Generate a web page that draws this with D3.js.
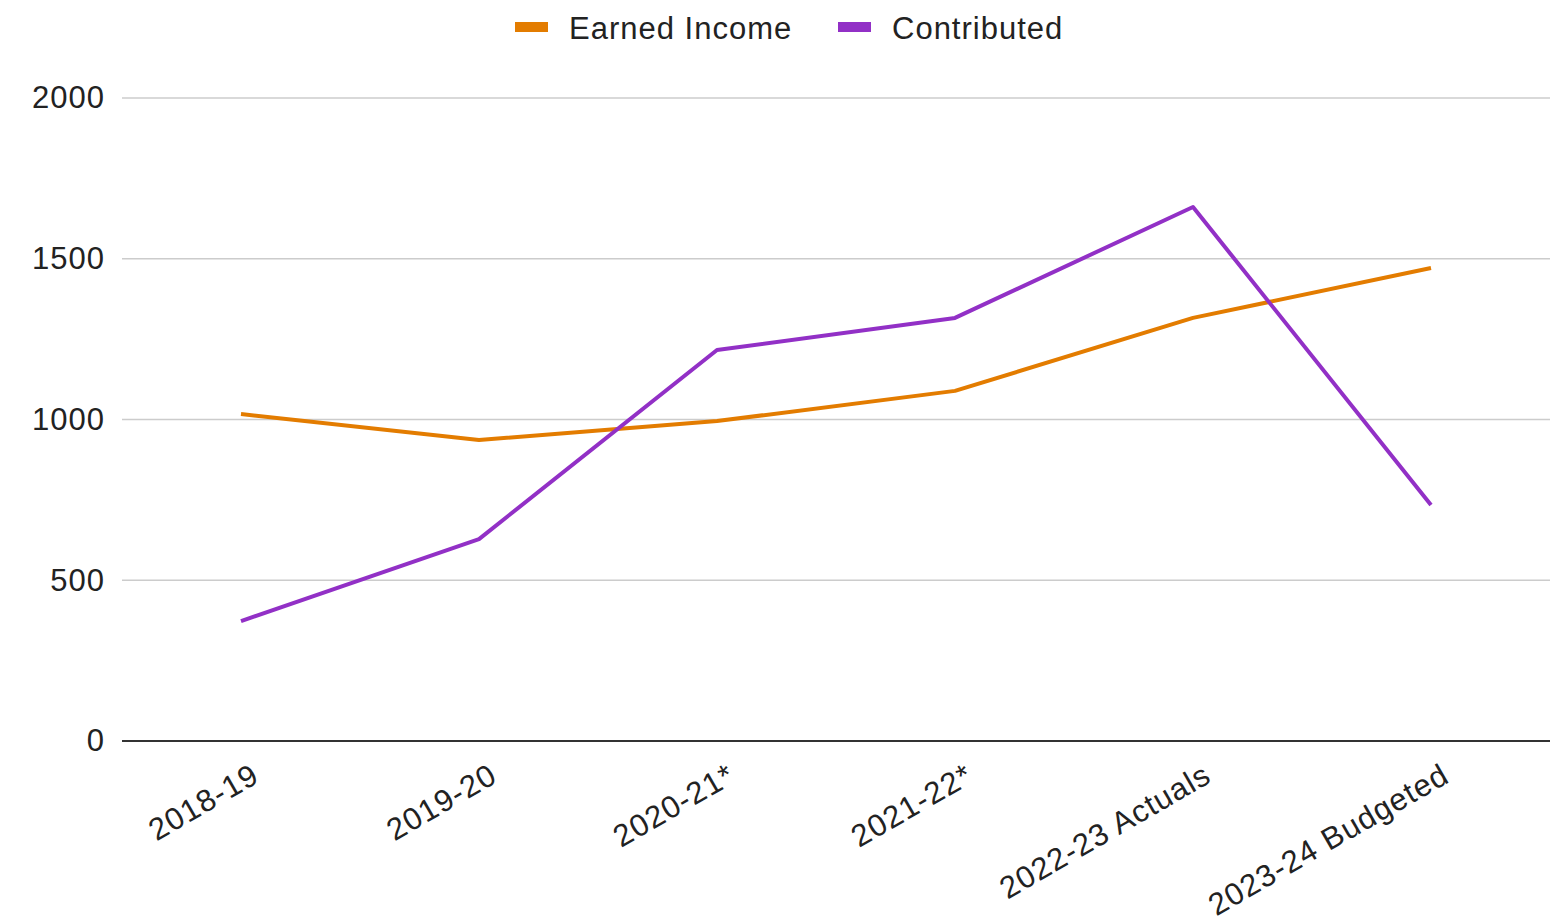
<!DOCTYPE html>
<html><head><meta charset="utf-8">
<script src="https://cdn.jsdelivr.net/npm/d3@7"></script>
<style>
html,body{margin:0;padding:0;background:#fff;}
text{font-family:"Liberation Sans",Arial,sans-serif;fill:#222;}
</style></head>
<body>
<svg id="chart" width="1557" height="923"></svg>
<script>
const categories = ["2018-19","2019-20","2020-21*","2021-22*","2022-23 Actuals","2023-24 Budgeted"];
const earnedIncome = [1017, 936, 995, 1089, 1316, 1471];
const contributed = [373, 628, 1216, 1316, 1661, 734];
const seriesNames = ["Earned Income","Contributed"];
const seriesColors = ["#e37c00","#9230c6"];
const yTicks = [0, 500, 1000, 1500, 2000];

(function(){
const svg = d3.select("#chart");
const mLeft = 122, mRight = 1550, mTop = 98, mBottom = 741;

const x = d3.scaleBand().domain(categories).range([mLeft, mRight]);
const y = d3.scaleLinear().domain([0, 2000]).range([mBottom, mTop]);

// gridlines
svg.append("g").selectAll("line").data(yTicks.filter(d => d !== 0)).join("line")
  .attr("x1", mLeft).attr("x2", mRight)
  .attr("y1", d => y(d)).attr("y2", d => y(d))
  .attr("stroke", "#cccccc").attr("stroke-width", 1.5);

// y axis labels
const yAxis = d3.axisLeft(y).tickValues(yTicks).tickFormat(d3.format("d")).tickSize(0).tickPadding(17);
const yg = svg.append("g").attr("transform", `translate(${mLeft},0)`).call(yAxis);
yg.select(".domain").remove();
yg.selectAll("text").style("font-size", "31px").style("letter-spacing", "1px")
  .style("font-family", '"Liberation Sans", Arial, sans-serif').attr("fill", "#222");

// baseline
svg.append("line").attr("x1", mLeft).attr("x2", mRight)
  .attr("y1", y(0)).attr("y2", y(0)).attr("stroke", "#333").attr("stroke-width", 2);

// x labels
const xAxis = d3.axisBottom(x).tickSize(0);
const xg = svg.append("g").attr("transform", `translate(0,${mBottom})`).call(xAxis);
xg.select(".domain").remove();
xg.selectAll("text")
  .style("font-size", "31px").style("letter-spacing", "1px")
  .style("font-family", '"Liberation Sans", Arial, sans-serif').attr("fill", "#222")
  .attr("text-anchor", "end")
  .attr("y", 0).attr("dy", 0)
  .attr("transform", "translate(20,40) rotate(-30)");

// lines
const series = [earnedIncome, contributed];
const line = d3.line().x((d, i) => x(categories[i]) + x.bandwidth() / 2).y(d => y(d));
series.forEach((s, k) => {
  svg.append("path").datum(s).attr("d", line)
    .attr("fill", "none").attr("stroke", seriesColors[k]).attr("stroke-width", 4)
    .attr("stroke-linejoin", "round");
});

// legend
const legendX = [515, 838];
seriesNames.forEach((n, k) => {
  svg.append("rect").attr("x", legendX[k]).attr("y", 22).attr("width", 33).attr("height", 10)
    .attr("fill", seriesColors[k]);
  svg.append("text").attr("x", legendX[k] + 54).attr("y", 39)
    .style("font-size", "31px").style("letter-spacing", "1px").text(n);
});
})();
</script>
</body></html>
